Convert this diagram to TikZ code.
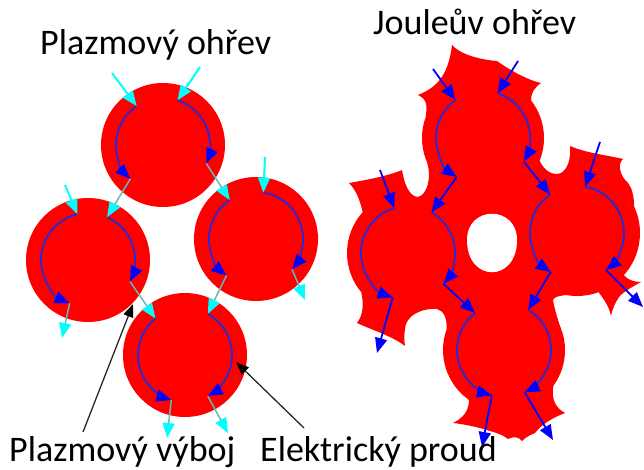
\documentclass[tikz,border=0pt]{standalone}
\usepackage{fontspec}
\setmainfont{Carlito}
\usetikzlibrary{arrows.meta,calc}
\definecolor{fillred}{RGB}{255,0,0}
\definecolor{arcblue}{RGB}{40,40,215}
\definecolor{pureblue}{RGB}{0,0,255}
\definecolor{purecyan}{RGB}{0,255,255}
\definecolor{linkcyan}{RGB}{100,185,185}
\definecolor{leader}{RGB}{40,40,40}
\begin{document}
\begin{tikzpicture}[x=1pt,y=-1pt,
  lbl/.style={inner sep=0pt, font=\fontsize{36}{40}\selectfont},
  flow/.style={draw=arcblue, line width=1.8pt, -{Triangle[length=15pt,width=12pt,color=pureblue]}},
  feed/.style={draw=pureblue, line width=1.8pt, -{Triangle[length=15pt,width=12pt,color=pureblue]}},
  plasmain/.style={draw=purecyan, line width=2pt, -{Triangle[length=15pt,width=12pt,color=purecyan]}},
  plasmaout/.style={draw=linkcyan, line width=1.5pt, -{Triangle[length=15pt,width=12pt,color=purecyan]}},
  pointer/.style={draw=leader, line width=1.3pt, -{Triangle[length=13pt,width=10pt,color=black]}}]
\useasboundingbox (0,0) rectangle (644,470);

% two current loops inside a particle: left half and right half
\newcommand\currentloop[6]{%
  \coordinate (#1ls) at ($(#1)+(#2:47)$);
  \coordinate (#1le) at ($(#1)+(#3:47)$);
  \coordinate (#1rs) at ($(#1)+(#4:47)$);
  \coordinate (#1re) at ($(#1)+(#5:47)$);
  \draw[#6] (#1ls) arc[start angle=#2, end angle=#3, radius=47];
  \draw[#6] (#1rs) arc[start angle=#4, end angle=#5, radius=47];
}

% ---------- plasma heating: four separate particles ----------
\coordinate (pT) at (163,145);
\coordinate (pL) at (88,260);
\coordinate (pR) at (256,239);
\coordinate (pB) at (185,355);
\foreach \c in {pT,pL,pR,pB} \fill[fillred] (\c) circle[radius=62];

\currentloop{pT}{236}{134}{288}{383}{flow}
\currentloop{pL}{257}{113}{294}{387}{flow}
\currentloop{pR}{236}{129}{279}{400}{flow}
\currentloop{pB}{231}{107}{299}{421}{flow}

\coordinate (pTinA) at (112,73);
\coordinate (pTinB) at (200,67);
\coordinate (pRin) at (265,157);
\coordinate (pLin) at (65,185);
\coordinate (pRout) at (305,300);
\coordinate (pLout) at (62,338);
\coordinate (pBoutA) at (167,438);
\coordinate (pBoutB) at (228,433);

\draw[plasmain] (pTinA) -- (pTls);
\draw[plasmain] (pTinB) -- (pTrs);
\draw[plasmain] (pRin) -- (pRrs);
\draw[plasmain] (pLin) -- (pLls);
\draw[plasmaout] (pTle) -- (pLrs);
\draw[plasmaout] (pTre) -- (pRls);
\draw[plasmaout] (pRle) -- (pBrs);
\draw[plasmaout] (pLre) -- (pBls);
\draw[plasmaout] (pRre) -- (pRout);
\draw[plasmaout] (pLle) -- (pLout);
\draw[plasmaout] (pBle) -- (pBoutA);
\draw[plasmaout] (pBre) -- (pBoutB);

% ---------- Joule heating: sintered cluster ----------
\coordinate (T) at (483,138);
\coordinate (L) at (408,253);
\coordinate (R) at (577,233);
\coordinate (B) at (504,350);

\fill[fillred] (452,45)
  .. controls (462,56) and (484,60) .. (497,61)
  .. controls (508,69) and (527,80) .. (541,83)
  .. controls (534,88) and (531,93) .. ($(T)+(-38:61)$)
  arc[start angle=-38, end angle=22, radius=61]
  .. controls (545,172) and (554,176) .. (561,173)
  .. controls (568,169) and (571,158) .. (570,146)
  .. controls (586,153) and (606,155) .. (623,159)
  .. controls (617,164) and (620,176) .. (628,183)
  .. controls (632,188) and (634,196) .. ($(R)+(-25:63)$)
  arc[start angle=-25, end angle=42, radius=63]
  .. controls (628,280) and (634,282) .. (641,282)
  .. controls (632,287) and (623,292) .. (619,297)
  .. controls (615,303) and (612,310) .. (611,316)
  .. controls (609,306) and (603,298) .. ($(R)+(70:63)$)
  arc[start angle=70, end angle=100, radius=63]
  .. controls (558,296) and (554,297) .. (553,300)
  .. controls (555,312) and (559,323) .. ($(B)+(-15:61)$)
  arc[start angle=-15, end angle=36, radius=61]
  .. controls (551,400) and (556,408) .. (565,413)
  .. controls (552,418) and (542,424) .. (535,433)
  .. controls (530,435) and (526,437) .. (522,441)
  .. controls (519,437) and (514,436) .. (508,439)
  .. controls (503,435) and (497,433) .. (490,431)
  .. controls (478,427) and (463,424) .. (453,423)
  .. controls (463,418) and (469,411) .. ($(B)+(125:61)$)
  arc[start angle=125, end angle=200, radius=61]
  .. controls (447,318) and (444,311) .. (437,309)
  .. controls (425,308) and (410,313) .. (406,324)
  .. controls (404,332) and (404,340) .. (405,346)
  .. controls (392,336) and (372,330) .. (357,323)
  .. controls (363,315) and (364,305) .. ($(L)+(140:61)$)
  arc[start angle=140, end angle=222, radius=61]
  .. controls (360,200) and (356,190) .. (349,183)
  .. controls (366,180) and (388,176) .. (402,170)
  .. controls (404,182) and (408,195) .. (417,197)
  .. controls (427,197) and (433,175) .. ($(T)+(160:61)$)
  arc[start angle=160, end angle=200, radius=61]
  .. controls (427,106) and (428,100) .. (418,95)
  .. controls (435,88) and (448,78) .. (452,45)
  -- cycle;
% pore in the middle of the cluster
\fill[white] (467,240) .. controls (467,205) and (517,205) .. (517,240)
  .. controls (517,283) and (467,283) .. (467,240);

\currentloop{T}{234}{124}{288}{390}{flow}
\currentloop{L}{253}{109}{300}{401}{flow}
\currentloop{R}{235}{124}{280}{412}{flow}
\currentloop{B}{232}{105}{301}{424}{flow}

\coordinate (TinA) at (433,69);
\coordinate (TinB) at (518,61);
\coordinate (Rin) at (600,142);
\coordinate (Lin) at (380,170);
\coordinate (Rout) at (643,307);
\coordinate (Lout) at (377,353);
\coordinate (BoutA) at (482,447);
\coordinate (BoutB) at (553,440);

\draw[feed] (TinA) -- (Tls);
\draw[feed] (TinB) -- (Trs);
\draw[feed] (Rin) -- (Rrs);
\draw[feed] (Lin) -- (Lls);
\draw[feed] (Tle) -- (Lrs);
\draw[feed] (Tre) -- (Rls);
\draw[feed] (Rle) -- (Brs);
\draw[feed] (Lre) -- (Bls);
\draw[feed] (Rre) -- (Rout);
\draw[feed] (Lle) -- (Lout);
\draw[feed] (Ble) -- (BoutA);
\draw[feed] (Bre) -- (BoutB);

% ---------- labels ----------
\node[lbl, anchor=base west] (lblPO) at (40,55) {Plazmový ohřev};
\node[lbl, anchor=base west] (lblJO) at (373,35) {Jouleův ohřev};
\node[lbl, anchor=base west] (lblPV) at (9,461) {Plazmový výboj};
\node[lbl, anchor=base west] (lblEP) at (260,461) {Elektrický proud};

\coordinate (dischargeTail) at (83,432);
\coordinate (dischargeTip) at (133,304);
\coordinate (currentTail) at (304,428);
\coordinate (currentTip) at (236,362);
\draw[pointer] (dischargeTail) -- (dischargeTip);
\draw[pointer] (currentTail) -- (currentTip);
\end{tikzpicture}
\end{document}
